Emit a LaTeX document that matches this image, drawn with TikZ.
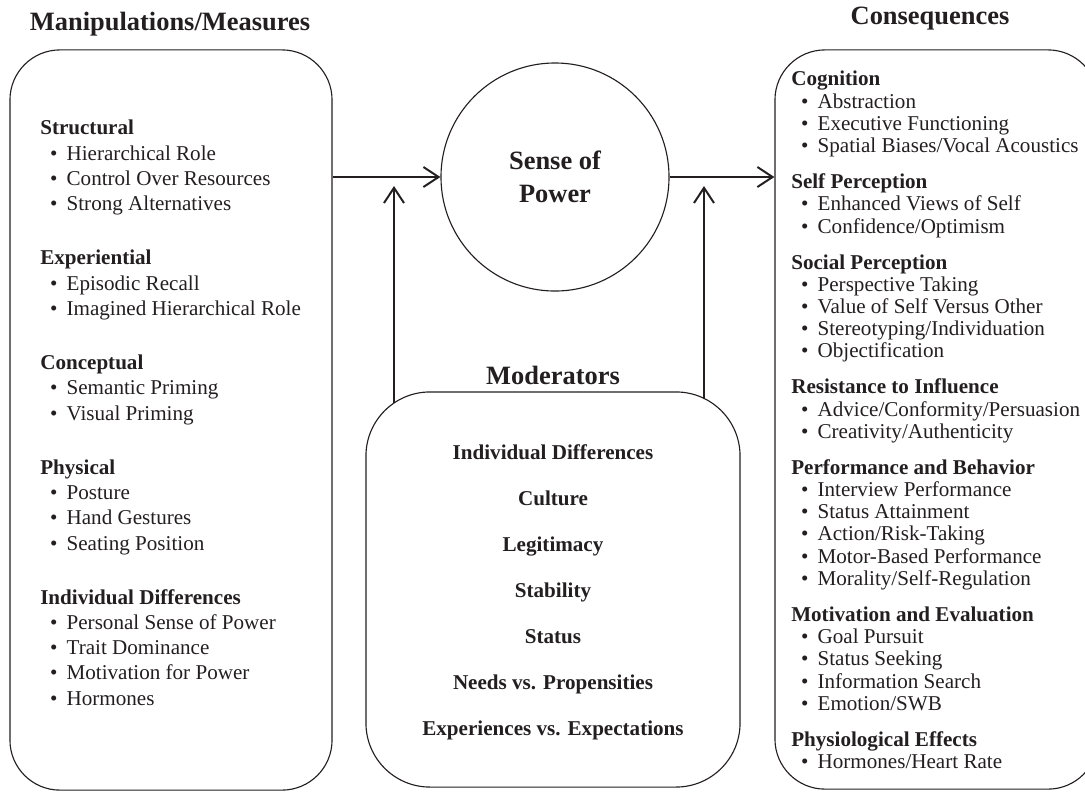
\documentclass[tikz,border=0pt]{standalone}
\usepackage{fontspec}
\setmainfont{Liberation Serif}
\usetikzlibrary{arrows.meta,positioning,calc}

\definecolor{ink}{RGB}{35,31,32}

% bullet line and group heading
\newcommand{\itm}[1]{\hspace*{7pt}\textbullet\hspace{6.5pt}#1}
\newcommand{\grp}[1]{\textbf{#1}}

\begin{document}
\begin{tikzpicture}[
  x=0.025cm, y=-0.025cm,
  color=ink, text=ink,
  panel/.style={draw, line width=0.8pt, rounded corners=1.25cm, inner sep=0pt},
  ttl/.style={font=\fontsize{18.8}{23.5}\selectfont\bfseries},
  lstl/.style={inner sep=0pt, align=left, anchor=north west, font=\fontsize{15}{18}\selectfont},
  lstr/.style={inner sep=0pt, align=left, anchor=north west, font=\fontsize{15}{15.8}\selectfont},
  arr/.style={-{Straight Barb[length=0.38cm,width=0.5cm]}, line width=1.4pt}
]
\useasboundingbox (0,0) rectangle (1085,792);
\clip (0,0) rectangle (1085,792);

% Panels
\node[panel, minimum width=8.05cm, minimum height=18.5cm] (mm) at (171,420) {};
\node[panel, minimum width=8.075cm, minimum height=18.475cm] (cons) at (936.5,419.5) {};
\node[panel, rounded corners=1.6cm, minimum width=9.35cm, minimum height=9.875cm] (mod) at (553,589.5) {};
\node[draw, circle, line width=0.8pt, minimum size=5.7cm, inner sep=0pt, ttl, align=center] (pow) at (555,177) {Sense of\\Power};

% Titles
\node[ttl] (mmtitle) at (170,24) {Manipulations/Measures};
\node[ttl] (constitle) at (930,19) {Consequences};
\node[ttl] (modtitle) at (553,375) {Moderators};

% Manipulations/Measures list
\node[lstl] (mmlist) at (40,120) {%
\grp{Structural}\\
\itm{Hierarchical Role}\\
\itm{Control Over Resources}\\
\itm{Strong Alternatives}\\[20.4pt]
\grp{Experiential}\\
\itm{Episodic Recall}\\
\itm{Imagined Hierarchical Role}\\[20.4pt]
\grp{Conceptual}\\
\itm{Semantic Priming}\\
\itm{Visual Priming}\\[20.4pt]
\grp{Physical}\\
\itm{Posture}\\
\itm{Hand Gestures}\\
\itm{Seating Position}\\[20.4pt]
\grp{Individual Differences}\\
\itm{Personal Sense of Power}\\
\itm{Trait Dominance}\\
\itm{Motivation for Power}\\
\itm{Hormones}};

% Consequences list
\node[lstr] (conslist) at (791,71) {%
\grp{Cognition}\\
\itm{Abstraction}\\
\itm{Executive Functioning}\\
\itm{Spatial Biases/Vocal Acoustics}\\[9.8pt]
\grp{Self Perception}\\
\itm{Enhanced Views of Self}\\
\itm{Confidence/Optimism}\\[9.8pt]
\grp{Social Perception}\\
\itm{Perspective Taking}\\
\itm{Value of Self Versus Other}\\
\itm{Stereotyping/Individuation}\\
\itm{Objectification}\\[9.8pt]
\grp{Resistance to Influence}\\
\itm{Advice/Conformity/Persuasion}\\
\itm{Creativity/Authenticity}\\[9.8pt]
\grp{Performance and Behavior}\\
\itm{Interview Performance}\\
\itm{Status Attainment}\\
\itm{Action/Risk-Taking}\\
\itm{Motor-Based Performance}\\
\itm{Morality/Self-Regulation}\\[9.8pt]
\grp{Motivation and Evaluation}\\
\itm{Goal Pursuit}\\
\itm{Status Seeking}\\
\itm{Information Search}\\
\itm{Emotion/SWB}\\[9.8pt]
\grp{Physiological Effects}\\
\itm{Hormones/Heart Rate}};

% Moderators list
\node[inner sep=0pt, align=center, anchor=north, font=\fontsize{15}{32.7}\selectfont\bfseries] (modlist) at (553,444) {%
Individual Differences\\
Culture\\
Legitimacy\\
Stability\\
Status\\
Needs vs. Propensities\\
Experiences vs. Expectations};

% Arrows
\coordinate (lup) at (394,186);
\coordinate (rup) at (704,186);
\coordinate (lfoot) at (394,403);
\coordinate (rfoot) at (704,399);
\draw[arr] (mm.east |- pow.west) -- (pow.west);
\draw[arr] (pow.east) -- (cons.west |- pow.east);
\draw[arr] (lfoot) -- (lup);
\draw[arr] (rfoot) -- (rup);

\end{tikzpicture}
\end{document}
